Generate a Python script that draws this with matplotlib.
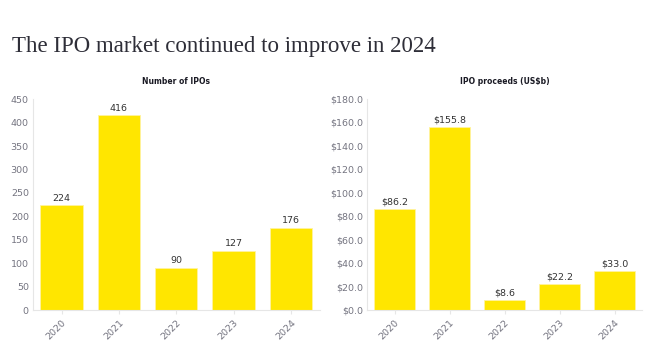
import matplotlib.pyplot as plt

# datos
anios = ['2020', '2021', '2022', '2023', '2024']
num_ipos = [224, 416, 90, 127, 176]
recaudacion = [86.2, 155.8, 8.6, 22.2, 33.0]

amarillo = '#FFE600'
gris_texto = '#747480'
gris_linea = '#E6E6E6'

fig = plt.figure(figsize=(6.5, 3.61), dpi=100)
W, H = 650, 361

fig.text(12 / W, 1 - 52 / H, 'The IPO market continued to improve in 2024',
         fontsize=16.5, family='Liberation Serif', color='#2E2E38', va='baseline')


def dibujar_panel(rect, valores, titulo, ymax, paso, formato, formato_etiqueta):
    ax = fig.add_axes(rect)
    pos = range(len(valores))
    ax.bar(pos, valores, width=0.74, color=amarillo, edgecolor='#FFF3A0', linewidth=0.6)
    ax.set_xlim(-0.5, len(valores) - 0.5)
    ax.set_ylim(0, ymax)
    ax.set_yticks([i * paso for i in range(int(ymax / paso) + 1)])
    ax.set_yticklabels([formato(i * paso) for i in range(int(ymax / paso) + 1)])
    ax.set_xticks(list(pos))
    ax.set_xticklabels(anios, rotation=45, ha='right', rotation_mode='anchor')
    ax.tick_params(axis='both', labelsize=6.8, colors=gris_texto, length=0, pad=3)
    ax.tick_params(axis='x', length=3, color=gris_linea)
    for lado in ['top', 'right']:
        ax.spines[lado].set_visible(False)
    for lado in ['left', 'bottom']:
        ax.spines[lado].set_color(gris_linea)
        ax.spines[lado].set_linewidth(0.8)
    for x, v in zip(pos, valores):
        ax.text(x, v + ymax * 0.012, formato_etiqueta(v), ha='center', va='bottom',
                fontsize=6.8, color='#333333')
    ax.set_title(titulo, fontsize=5.5, fontweight='bold', color='#1A1A24', pad=11)
    return ax


# paneles en coordenadas de pixel
izq = [33 / W, 1 - 310 / H, (319.5 - 33) / W, (310 - 99.3) / H]
der = [367 / W, 1 - 310 / H, (642 - 367) / W, (310 - 99) / H]

dibujar_panel(izq, num_ipos, 'Number of IPOs', 450, 50,
              lambda t: f'{t:.0f}', lambda v: f'{v:.0f}')
dibujar_panel(der, recaudacion, 'IPO proceeds (US$b)', 180, 20,
              lambda t: f'${t:.1f}', lambda v: f'${v:.1f}')

fig.savefig('out.png', dpi=100, facecolor='white')
